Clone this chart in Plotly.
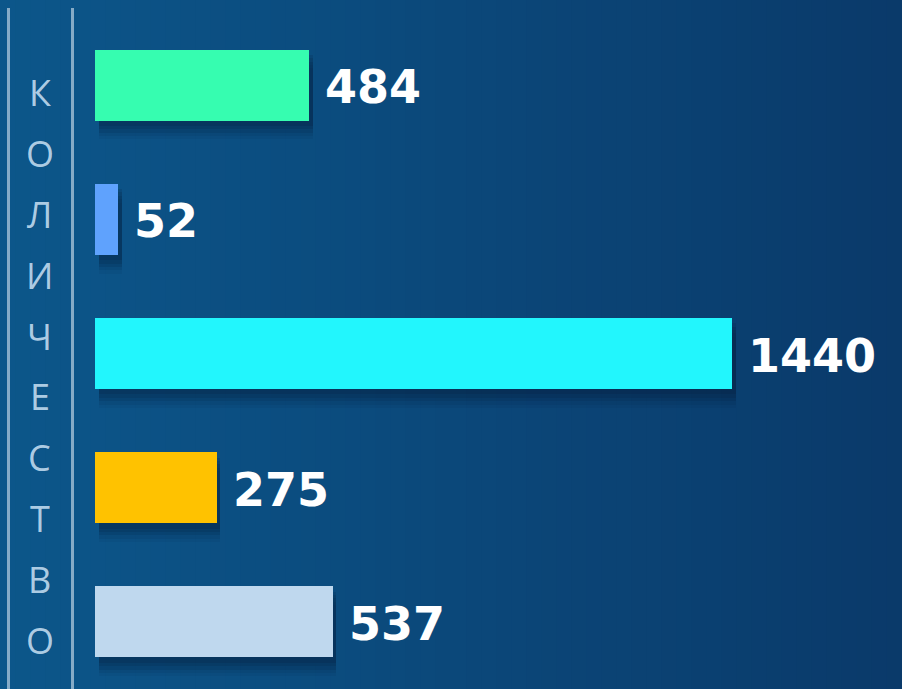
import plotly.graph_objects as go

# ---- data ----
categories = ["A", "B", "C", "D", "E"]
values = [484, 52, 1440, 275, 537]
bar_colors = ["#36fdb0", "#5fa2fd", "#22f6fd", "#ffc200", "#bfd8ee"]
value_labels = [str(v) for v in values]
axis_title = "КОЛИЧЕСТВО"

W, H = 902, 689
ML, MR, MT, MB = 95, 0, 18, 0
PW, PH = W - ML - MR, H - MT - MB
px_per_unit = (732 - 95) / 1440.0
x_max = PW / px_per_unit
bar_w = 0.53

fig = go.Figure()

# soft shadows under bars
for k, (dy, a) in enumerate([(0.14, 0.06), (0.115, 0.08), (0.09, 0.11), (0.065, 0.13), (0.04, 0.14)]):
    fig.add_trace(go.Bar(
        y=categories, x=values, base=[8] * len(values), orientation="h",
        width=bar_w, offset=-bar_w / 2 + dy,
        marker=dict(color=f"rgba(4,22,50,{a})", line=dict(width=0)),
        hoverinfo="skip", showlegend=False,
    ))

fig.add_trace(go.Bar(
    y=categories, x=values, orientation="h", width=bar_w,
    marker=dict(color=bar_colors, line=dict(width=0)),
    showlegend=False,
))

# value labels
for c, v, t in zip(categories, values, value_labels):
    fig.add_annotation(x=v, y=c, text=f"<b>{t}</b>", showarrow=False,
                       xanchor="left", yanchor="middle", xshift=14, yshift=-2,
                       font=dict(family="DejaVu Sans", size=46, color="white"))

# background gradient (vertical strips)
c0 = (12, 86, 138)
c1 = (10, 58, 106)
n = 60
shapes = []
for i in range(n):
    t = i / (n - 1)
    col = tuple(int(round(c0[j] + (c1[j] - c0[j]) * t)) for j in range(3))
    x0p = i * W / n
    x1p = (i + 1) * W / n + 1
    shapes.append(dict(type="rect", xref="paper", yref="paper",
                       x0=(x0p - ML) / PW, x1=(x1p - ML) / PW,
                       y0=-0.01, y1=(H - 0) / PH + 0.01,
                       fillcolor=f"rgb{col}", line=dict(width=0), layer="below"))

# vertical lines
for xp in [8.5, 72.5]:
    shapes.append(dict(type="line", xref="paper", yref="paper",
                       x0=(xp - ML) / PW, x1=(xp - ML) / PW,
                       y0=0, y1=(H - 8) / PH,
                       line=dict(color="rgba(165,192,214,0.8)", width=3)))
fig.update_layout(shapes=shapes)

# vertical axis title letters
for i, ch in enumerate(axis_title):
    ypix = 93 + i * 60.8
    fig.add_annotation(x=(40 - ML) / PW, y=(H - ypix) / PH, xref="paper", yref="paper",
                       text=ch, showarrow=False, xanchor="center", yanchor="middle",
                       font=dict(family="Open Sans", size=36, color="rgba(195,220,240,0.9)"))

fig.update_layout(
    width=W, height=H,
    margin=dict(l=ML, r=MR, t=MT, b=MB, pad=0),
    paper_bgcolor="#0b4a7e", plot_bgcolor="rgba(0,0,0,0)",
    barmode="overlay", bargap=0,
    xaxis=dict(range=[0, x_max], visible=False, showgrid=False, zeroline=False),
    yaxis=dict(visible=False, autorange="reversed", showgrid=False, zeroline=False),
)

fig.write_html("out.html", config={"displayModeBar": False},
               post_script="document.body.style.margin='0';document.body.style.overflow='hidden';")
